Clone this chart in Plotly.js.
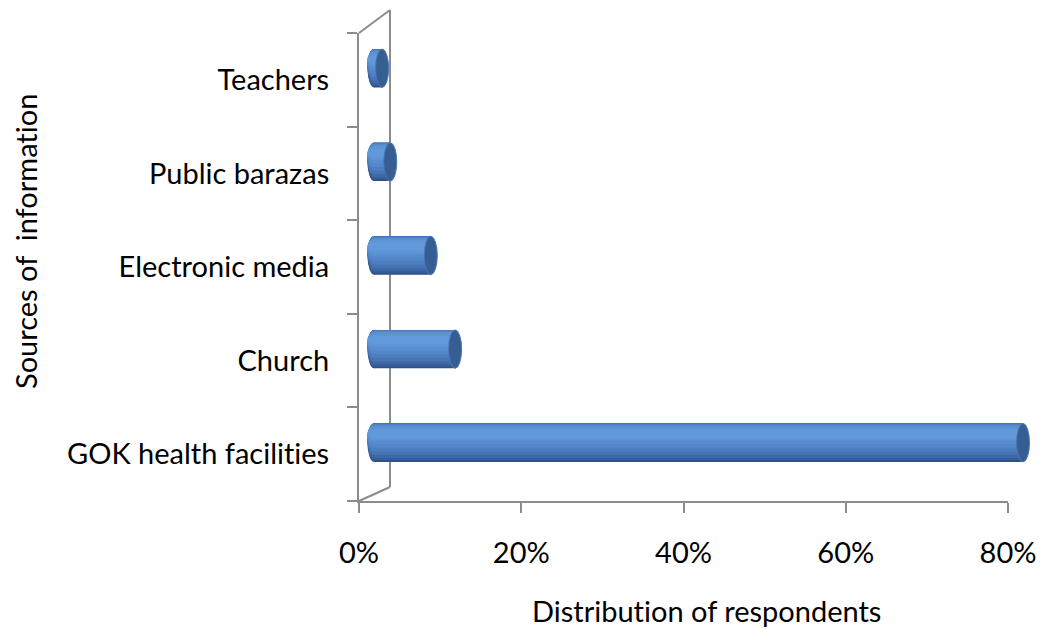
<!DOCTYPE html>
<html><head><meta charset="utf-8">
<script src="https://cdn.plot.ly/plotly-3.0.1.min.js"></script>
<style>html,body{margin:0;padding:0;background:#fff} text{font-variant-ligatures:none;font-feature-settings:"liga" 0,"clig" 0;}</style>
</head><body>
<div id="chart" style="width:1042px;height:629px"></div>
<script>
// Data (bottom to top)
const categories = ["GOK health facilities", "Church", "Electronic media", "Public barazas", "Teachers"];
const percentages = [80, 10, 7, 2, 1];
const xTickValues = [0, 20, 40, 60, 80];
const xTickLabels = ["0%", "20%", "40%", "60%", "80%"];

const FONT = "Lato, 'Open Sans', sans-serif";
const W = 677, H = 491;           // plot area size in px
const pxPerUnit = 649 / 80;       // front axis scale
const depthX = 15, depthY = 11.5; // half-depth offset of the bars
const capHalf = 6.5;              // end-cap half width in px

// shading layers of the cylinder body: [offset, width, color]
const layers = [
  [-0.205, 0.41, "#2f5288"],
  [-0.185, 0.39, "#375e98"],
  [-0.16, 0.365, "#3f69a6"],
  [-0.13, 0.335, "#4674b4"],
  [-0.095, 0.295, "#4d7ebf"],
  [-0.055, 0.25, "#5387c9"],
  [-0.015, 0.2, "#588ecf"],
  [0.02, 0.15, "#5d94d5"],
  [0.05, 0.09, "#6299da"]
];

const traces = [];
// invisible trace to populate the front (labelled) axes
traces.push({type: "bar", orientation: "h", x: percentages, y: categories,
  xaxis: "x", yaxis: "y", marker: {color: "rgba(0,0,0,0)"}, hoverinfo: "skip", showlegend: false});

layers.forEach(([off, wd, col]) => {
  traces.push({type: "bar", orientation: "h", x: percentages, y: categories,
    xaxis: "x2", yaxis: "y2", offset: off, width: wd,
    marker: {color: col, line: {width: 0}}, hoverinfo: "skip", showlegend: false});
});

const shapes = [];
// 3D frame (back wall edges)
const px = v => v / W, py = v => v / H;
const frame = {color: "#8c8c8c", width: 2};
shapes.push({type: "line", xref: "paper", yref: "paper", x0: 0, y0: py(468), x1: px(31), y1: 1, line: frame, layer: "below"});
shapes.push({type: "line", xref: "paper", yref: "paper", x0: 0, y0: 0, x1: px(31), y1: py(14), line: frame, layer: "below"});
shapes.push({type: "line", xref: "paper", yref: "paper", x0: px(31), y0: py(14), x1: px(31), y1: 1, line: frame, layer: "below"});

categories.forEach((c, i) => {
  // rounded start of cylinder
  layers.forEach(([off, wd, col]) => {
    shapes.push({type: "circle", xref: "x2", yref: "y2", xsizemode: "pixel", xanchor: 0,
      x0: -capHalf, x1: capHalf, y0: i + off, y1: i + off + wd,
      fillcolor: col, line: {width: 0}, layer: "below"});
  });
  // end cap
  shapes.push({type: "circle", xref: "x2", yref: "y2", xsizemode: "pixel", xanchor: percentages[i],
    x0: -capHalf, x1: capHalf, y0: i - 0.205, y1: i + 0.205,
    fillcolor: "#375e93", line: {color: "#4a78b3", width: 1}});
});

const titleFont = {family: FONT, size: 29, color: "#000"};
const annotations = [
  {text: "Distribution of respondents", xref: "paper", yref: "paper",
   x: (706 - 359) / W, y: -(610 - 501) / H, xanchor: "center", yanchor: "middle",
   showarrow: false, font: titleFont},
  {text: "Sources of  information", xref: "paper", yref: "paper", textangle: -90,
   x: -(359 - 26) / W, y: (501 - 242) / H, xanchor: "center", yanchor: "middle",
   showarrow: false, font: titleFont}
];

const layout = {
  width: 1042, height: 629,
  margin: {l: 359, r: 6, t: 10, b: 128, autoexpand: false},
  paper_bgcolor: "#fff", plot_bgcolor: "rgba(0,0,0,0)",
  barmode: "overlay", showlegend: false,
  font: {family: FONT, size: 29, color: "#000"},
  xaxis: {domain: [0, 649 / W], range: [0, 80], anchor: "y",
    tickvals: xTickValues, ticktext: xTickLabels,
    showline: true, linecolor: "#8c8c8c", linewidth: 2,
    ticks: "outside", ticklen: 10, tickwidth: 2, tickcolor: "#8c8c8c",
    showgrid: false, zeroline: false, ticklabelstandoff: 15,
    tickfont: titleFont},
  yaxis: {domain: [0, 468 / H], range: [-0.5, 4.5], anchor: "x", type: "category",
    categoryorder: "array", categoryarray: categories,
    showline: true, linecolor: "#8c8c8c", linewidth: 2,
    ticks: "outside", ticklen: 10, tickwidth: 2, tickcolor: "#8c8c8c", tickson: "boundaries",
    showgrid: false, zeroline: false, ticklabelstandoff: 22,
    tickfont: titleFont},
  xaxis2: {domain: [0, 1], range: [-depthX / pxPerUnit, (W - depthX) / pxPerUnit], anchor: "y2", visible: false, fixedrange: true},
  yaxis2: {domain: [depthY / H, (depthY + 468) / H], range: [-0.5, 4.5], anchor: "x2", type: "category",
    categoryorder: "array", categoryarray: categories, visible: false, fixedrange: true},
  shapes: shapes,
  annotations: annotations
};

Plotly.newPlot("chart", traces, layout, {displayModeBar: false, staticPlot: true});
</script>
</body></html>
